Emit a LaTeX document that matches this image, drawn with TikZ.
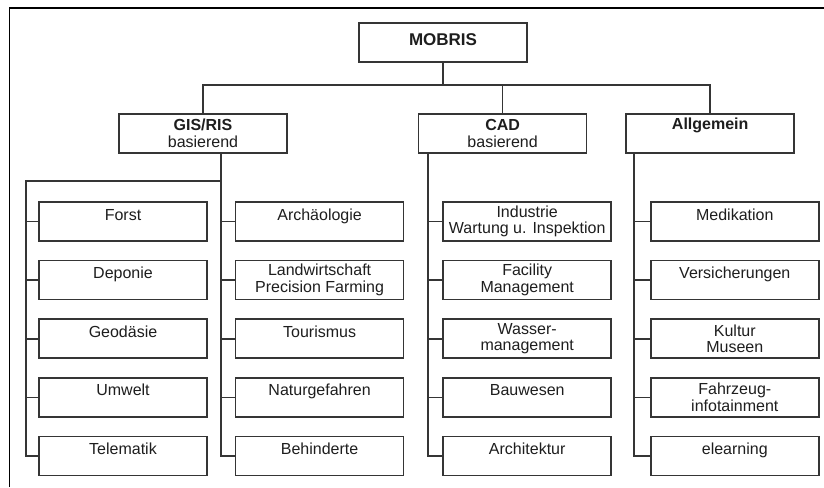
\documentclass[tikz,border=0pt]{standalone}
\usepackage{fontspec}
\setmainfont{Liberation Sans}
\usetikzlibrary{positioning,calc}

\definecolor{linegray}{HTML}{353535}
\definecolor{textgray}{HTML}{1E1E1E}

\tikzset{
  box/.style={rectangle, draw=linegray, line width=1.6pt, fill=white,
              minimum width=168pt, minimum height=39pt, inner sep=1pt,
              align=center, text=textgray,
              font=\fontsize{16}{16.5}\selectfont},
  raised/.style={text height=11.5pt, text depth=#1},
  conn/.style={draw=linegray, line width=1.6pt},
}

\begin{document}
\begin{tikzpicture}[x=1pt, y=1pt, node distance=18pt]
  \useasboundingbox (0,0) rectangle (824,-487);
  \draw[line width=1.8pt] (9.5,-487) -- (9.5,-8) -- (824,-8);

  % top and second level
  \node [box, raised=5pt](mobris) at (443,-42.5){\fontsize{17}{18}\selectfont\bfseries MOBRIS};
  \node [box](gis) at (203,-133.5){\fontsize{16}{18}\selectfont\bfseries GIS/RIS\\basierend};
  \node [box](cad) [right = 130pt of gis]{\fontsize{16}{18}\selectfont\bfseries CAD\\basierend};
  \node [box, raised=19.5pt](allg) [right = 38pt of cad]{\fontsize{16}{18}\selectfont\bfseries Allgemein};

  % GIS/RIS, left column
  \node [box, raised=14.5pt](forst) at (123,-221.5){Forst};
  \node [box, raised=14.5pt](deponie) [below = of forst]{Deponie};
  \node [box, raised=14.5pt](geod) [below = of deponie]{Geodäsie};
  \node [box, raised=14.5pt](umwelt) [below = of geod]{Umwelt};
  \node [box, raised=14.5pt](telem) [below = of umwelt]{Telematik};

  % GIS/RIS, right column
  \node [box, raised=14.5pt](archaeo) [right = 27pt of forst]{Archäologie};
  \node [box](landw) [below = of archaeo]{Landwirtschaft\\Precision Farming};
  \node [box, raised=14.5pt](tour) [below = of landw]{Tourismus};
  \node [box, raised=14.5pt](natur) [below = of tour]{Naturgefahren};
  \node [box, raised=14.5pt](behind) [below = of natur]{Behinderte};

  % CAD
  \node [box](indu) [right = 38pt of archaeo]{Industrie\\Wartung u. Inspektion};
  \node [box](facil) [below = of indu]{Facility\\Management};
  \node [box](wasser) [below = of facil]{Wasser-\\management};
  \node [box, raised=14.5pt](bau) [below = of wasser]{Bauwesen};
  \node [box, raised=14.5pt](archi) [below = of bau]{Architektur};

  % Allgemein
  \node [box, raised=14.5pt](medik) [right = 38pt of indu]{Medikation};
  \node [box, raised=14.5pt](versich) [below = of medik]{Versicherungen};
  \node [box](kultur) [below = of versich]{Kultur\\Museen};
  \node [box](fahrz) [below = of kultur]{Fahrzeug-\\infotainment};
  \node [box, raised=14.5pt](elearn) [below = of fahrz]{elearning};

  % trunk positions
  \coordinate (bus) at (443,-85);
  \coordinate (t1) at (26,-181);
  \coordinate (t2) at (221,-181);
  \coordinate (t3) at (428,-181);
  \coordinate (t4) at (634,-181);

  \draw[conn] (mobris.south) -- (bus) -| (gis.north);
  \draw[conn] (bus) -| (cad.north);
  \draw[conn] (bus) -| (allg.north);

  \draw[conn] (gis.south -| t2) -- (t2) -- (t1) -- (telem.west -| t1) -- (telem.west);
  \draw[conn] (t2) -- (behind.west -| t2) -- (behind.west);
  \draw[conn] (cad.south -| t3) -- (archi.west -| t3) -- (archi.west);
  \draw[conn] (allg.south -| t4) -- (elearn.west -| t4) -- (elearn.west);

  \path[every edge/.append style={conn}]
    (forst.west -| t1) edge (forst.west)
    (deponie.west -| t1) edge (deponie.west)
    (geod.west -| t1) edge (geod.west)
    (umwelt.west -| t1) edge (umwelt.west)

    (archaeo.west -| t2) edge (archaeo.west)
    (landw.west -| t2) edge (landw.west)
    (tour.west -| t2) edge (tour.west)
    (natur.west -| t2) edge (natur.west)

    (indu.west -| t3) edge (indu.west)
    (facil.west -| t3) edge (facil.west)
    (wasser.west -| t3) edge (wasser.west)
    (bau.west -| t3) edge (bau.west)

    (medik.west -| t4) edge (medik.west)
    (versich.west -| t4) edge (versich.west)
    (kultur.west -| t4) edge (kultur.west)
    (fahrz.west -| t4) edge (fahrz.west)
  ;
\end{tikzpicture}
\end{document}
